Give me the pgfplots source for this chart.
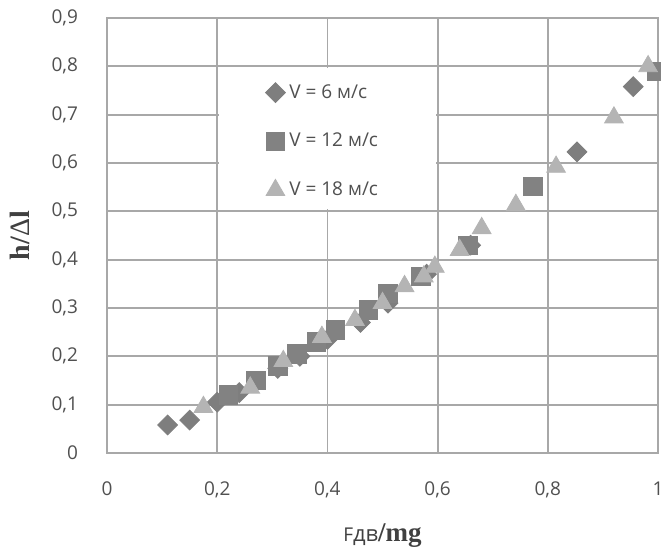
\documentclass[border=0pt]{standalone}
\usepackage{fontspec}
\setmainfont{Open Sans}
\newfontfamily\serifb{Liberation Serif}
\newfontfamily\sym{DejaVu Serif}
\usepackage{pgfplots}
\pgfplotsset{compat=1.18}
\definecolor{gridc}{HTML}{A8A8A8}
\definecolor{txtc}{HTML}{505050}
\definecolor{labc}{HTML}{404040}
\definecolor{dia}{HTML}{7E7E7E}
\definecolor{sqc}{HTML}{828282}
\definecolor{tri}{HTML}{B4B4B4}
\begin{document}
\begin{tikzpicture}
\begin{axis}[
  scale only axis,
  width=275.5pt, height=217.5pt,
  xmin=0, xmax=1, ymin=0, ymax=0.9,
  xtick={0,0.2,0.4,0.6,0.8,1},
  ytick={0,0.1,0.2,0.3,0.4,0.5,0.6,0.7,0.8,0.9},
  /pgf/number format/assume math mode=true,
  /pgf/number format/use comma,
  grid=major,
  major grid style={gridc, line width=0.9pt},
  axis line style={gridc, line width=0.9pt},
  major tick length=0pt,
  tick label style={font=\fontsize{9.5}{11}\selectfont, text=txtc},
  xticklabel style={yshift=-11pt},
  yticklabel style={xshift=-11pt},
  clip=false,
  xlabel={{\fontsize{9.5}{11}\selectfont F}{\fontsize{11}{12}\selectfont дв}{\serifb\bfseries\fontsize{13.5}{14}\selectfont /mg}},
  ylabel={\serifb\bfseries\fontsize{14}{15}\selectfont h/{\mdseries Δ}l},
  xlabel style={at={(axis description cs:0.5,-0.19)}, anchor=center, text=labc},
  ylabel style={at={(axis description cs:-0.158,0.5)}, anchor=center, text=labc},
  legend style={at={(axis cs:0.287,0.772)}, anchor=north west, draw=none, fill=none,
    font=\fontsize{9.5}{11}\selectfont, text=txtc, row sep=12pt, inner sep=0pt,
    /tikz/every even column/.append style={column sep=2pt}},
  legend cell align=left,
  legend image code/.code={\draw[#1] plot coordinates {(0.17cm,0cm)};},
]
\fill[white] (axis cs:0.203,0.504) rectangle (axis cs:0.597,0.796);
\addplot[only marks, mark=square*, mark size=3.5pt, color=dia,
  every mark/.append style={rotate=45}] coordinates {
(0.11,0.058) (0.15,0.068) (0.20,0.105) (0.24,0.125) (0.31,0.175)
(0.35,0.20) (0.40,0.235) (0.46,0.27) (0.51,0.31) (0.58,0.37)
(0.66,0.43) (0.853,0.623) (0.955,0.758)
};
\addlegendentry{V = 6 м/с}
\addplot[only marks, mark=square*, mark size=4.6pt, color=sqc] coordinates {
(0.22,0.12) (0.27,0.15) (0.31,0.18) (0.345,0.205) (0.38,0.23)
(0.415,0.255) (0.474,0.296) (0.51,0.33) (0.57,0.365) (0.655,0.43)
(0.773,0.551) (0.998,0.79)
};
\addlegendentry{V = 12 м/с}
\addplot[only marks, mark=triangle*, mark size=5.4pt, color=tri] coordinates {
(0.175,0.095) (0.26,0.135) (0.32,0.19) (0.39,0.24) (0.45,0.275)
(0.50,0.31) (0.54,0.345) (0.575,0.365) (0.595,0.385) (0.64,0.42)
(0.68,0.465) (0.742,0.513) (0.815,0.592) (0.92,0.694) (0.982,0.80)
};
\addlegendentry{V = 18 м/с}
\end{axis}
\pgfresetboundingbox
\path ([xshift=-53.5pt,yshift=-48pt]current axis.south west) rectangle ([xshift=1.5pt,yshift=9pt]current axis.north east);
\end{tikzpicture}
\end{document}
